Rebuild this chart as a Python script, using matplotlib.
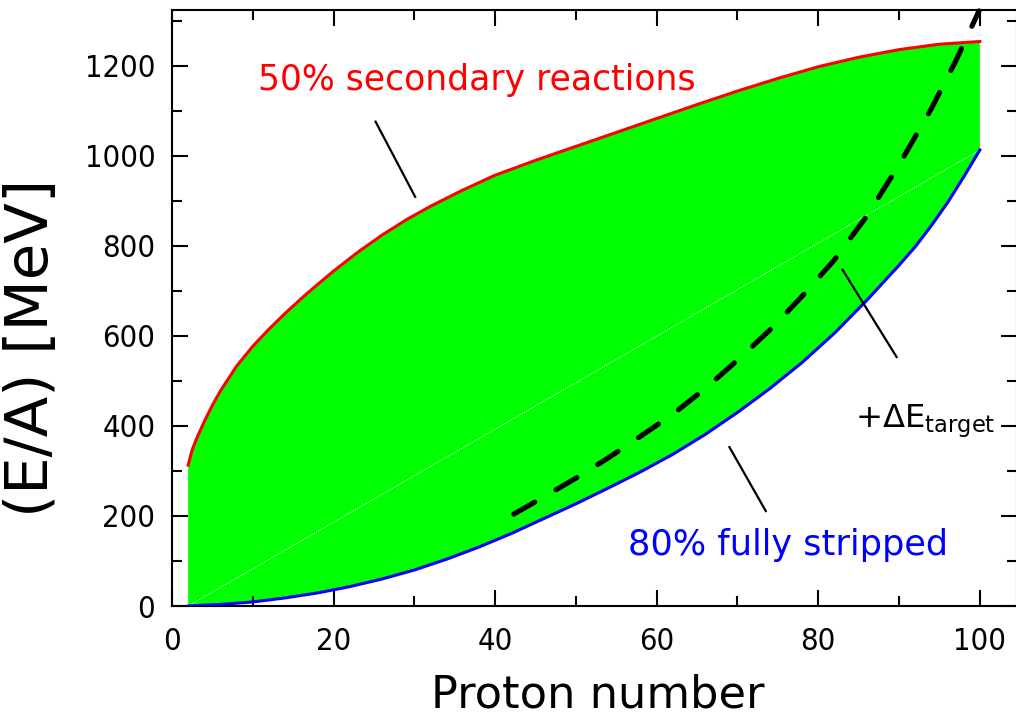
import matplotlib
matplotlib.use('Agg')
import matplotlib.pyplot as plt
from matplotlib.ticker import MultipleLocator
from matplotlib import font_manager as fm

# narrow face for the tick numbers if one is installed
_names = {f.name for f in fm.fontManager.ttflist}
if 'Liberation Sans Narrow' in _names:
    TICK_FAMILY, TICK_STRETCH = 'Liberation Sans Narrow', 'normal'
else:
    TICK_FAMILY, TICK_STRETCH = 'DejaVu Sans', 'condensed'
plt.rcParams['font.family'] = ['DejaVu Sans']
plt.rcParams['mathtext.fontset'] = 'dejavusans'

# ---- data ----
z_secondary = [2, 2.5, 3, 4, 5, 6, 8, 10, 12, 14, 16, 18, 20, 23, 26, 29, 32, 36, 40,
               45, 50, 55, 60, 65, 70, 75, 80, 85, 90, 95, 100]
e_secondary = [313, 347, 370, 410, 446, 478, 533, 577, 615, 650, 683, 714, 744, 786, 824,
               858, 888, 924, 957, 990, 1021, 1052, 1083, 1114, 1144, 1172, 1198, 1219,
               1236, 1248, 1254]

z_stripped = [2, 6, 10, 14, 18, 22, 26, 30, 34, 38, 42, 46, 50, 54, 58, 62, 66, 70, 74,
              78, 82, 86, 90, 92, 94, 96, 98, 100]
e_stripped = [0, 3.5, 9, 18, 29, 43, 60, 80, 104, 131, 161, 194, 227, 262, 298, 337, 381,
              430, 483, 541, 606, 679, 757, 798, 845, 896, 953, 1013]

z_diag = [2, 100]
e_diag = [0, 1013]

z_target = [42.3, 46, 50, 54, 58, 62, 66, 70, 74, 78, 82, 86, 90, 94, 97, 99.9]
e_target = [204, 242, 284, 329, 377, 426, 483, 546, 613, 688, 769, 866, 980, 1105, 1210, 1322]

x_ticks = [0, 20, 40, 60, 80, 100]
y_ticks = [0, 200, 400, 600, 800, 1000, 1200]

# ---- figure ----
W, H = 1016, 717
fig = plt.figure(figsize=(W / 100, H / 100), dpi=100)
ax = fig.add_axes([172 / W, 1 - 606 / H, (1017 - 172) / W, (606 - 10) / H])
renderer = fig.canvas.get_renderer()


def fit(t, target, horizontal=True):
    """scale a text's font size so it spans `target` pixels"""
    for _ in range(3):
        bb = t.get_window_extent(renderer)
        cur = bb.width if horizontal else bb.height
        t.set_fontsize(t.get_fontsize() * target / cur)
    return t


# green band between the two curves
poly_x = list(z_secondary) + list(reversed(z_stripped))
poly_y = list(e_secondary) + list(reversed(e_stripped))
ax.fill(poly_x, poly_y, color='#00ff00', lw=0, zorder=1)

ax.plot(z_diag, e_diag, color='white', lw=0.6, ls=(0, (1.5, 1.5)), zorder=2)
ax.plot(z_secondary, e_secondary, color='#ff0000', lw=2.2, zorder=3,
        solid_joinstyle='round')
ax.plot(z_stripped, e_stripped, color='#0000ff', lw=2.2, zorder=3,
        solid_joinstyle='round')
ln, = ax.plot(z_target, e_target, color='black', lw=3.7, zorder=4,
              solid_capstyle='round', dash_capstyle='round', dash_joinstyle='round')
ln.set_dashes([4.7, 4.8])
ln.set_clip_on(False)

# annotation pointer lines
ax.plot([25.2, 30.1], [1076, 909], color='black', lw=1.6, zorder=5)
ax.plot([69.0, 73.5], [353, 211], color='black', lw=1.6, zorder=5)
ax.plot([83.0, 89.7], [747, 553], color='black', lw=1.6, zorder=5)

t1 = ax.text(10.7, 1169, '50% secondary reactions', color='#ff0000', fontsize=26,
             ha='left', va='center')
t2 = ax.text(56.5, 136, '80% fully stripped', color='#0000ff', fontsize=26,
             ha='left', va='center')
t3 = ax.text(84.6, 410, r'+$\Delta\mathrm{E}_{\mathrm{target}}$', color='black',
             fontsize=26, ha='left', va='center')
fit(t1, 439)
fit(t2, 319)
fit(t3, 140)

ax.set_xlim(0, 104.6)
ax.set_ylim(0, 1324)

probe = fig.text(0, 0, '1200', fontsize=25, family=TICK_FAMILY, fontstretch=TICK_STRETCH)
fit(probe, 70)
tick_fs = probe.get_fontsize()
probe.remove()

ax.set_xticks(x_ticks, labels=[str(v) for v in x_ticks], family=TICK_FAMILY,
              fontstretch=TICK_STRETCH, fontsize=tick_fs)
ax.set_yticks(y_ticks, labels=[str(v) for v in y_ticks], family=TICK_FAMILY,
              fontstretch=TICK_STRETCH, fontsize=tick_fs)
ax.xaxis.set_minor_locator(MultipleLocator(10))
ax.yaxis.set_minor_locator(MultipleLocator(100))

ax.tick_params(which='both', direction='in', top=True, right=True, width=1.5)
ax.tick_params(which='major', length=11.5)
ax.tick_params(which='minor', length=7)
ax.tick_params(axis='x', pad=15)
ax.tick_params(axis='y', pad=12)
for s in ax.spines.values():
    s.set_linewidth(1.5)

xl = fig.text(598 / W, 1 - 695 / H, 'Proton number', fontsize=36, ha='center', va='center')
yl = fig.text(32 / W, 1 - 348 / H, '(E/A) [MeV]', fontsize=36, ha='center', va='center',
              rotation=90)
fit(xl, 333)
fit(yl, 338, horizontal=False)

fig.savefig('out.png', dpi=100)
